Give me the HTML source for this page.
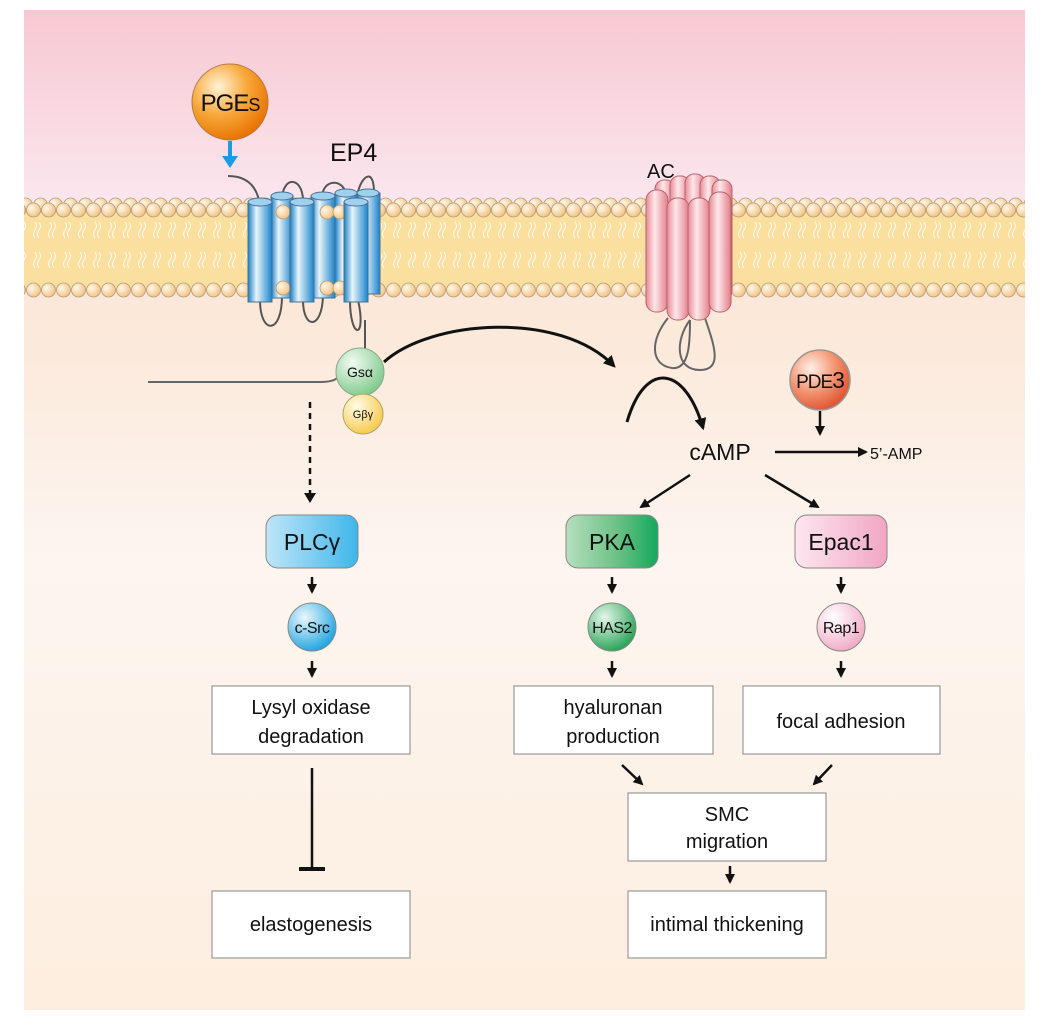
<!DOCTYPE html>
<html><head><meta charset="utf-8"><style>
html,body{margin:0;padding:0;background:#fff}
svg{display:block}
text{font-family:"Liberation Sans",sans-serif;fill:#111}
</style></head><body>
<svg width="1040" height="1024" viewBox="0 0 1040 1024" xmlns="http://www.w3.org/2000/svg">
<defs>
<linearGradient id="bg" x1="0" y1="0" x2="0" y2="1">
<stop offset="0" stop-color="#f7c8d2"/><stop offset="0.19" stop-color="#fbe6ee"/>
<stop offset="0.3" stop-color="#fbe8d8"/><stop offset="0.55" stop-color="#fdf5f0"/><stop offset="1" stop-color="#fdeedf"/>
</linearGradient>
<radialGradient id="head" cx="0.35" cy="0.35" r="0.7"><stop offset="0" stop-color="#fff8ec"/><stop offset="1" stop-color="#f2c27e"/></radialGradient>
<radialGradient id="orange" cx="0.35" cy="0.3" r="0.75"><stop offset="0" stop-color="#fff2d6"/><stop offset="0.5" stop-color="#f7a83a"/><stop offset="1" stop-color="#e87000"/></radialGradient>
<radialGradient id="red" cx="0.35" cy="0.3" r="0.75"><stop offset="0" stop-color="#fff0e8"/><stop offset="0.5" stop-color="#f49a78"/><stop offset="1" stop-color="#e0502c"/></radialGradient>
<radialGradient id="green" cx="0.35" cy="0.3" r="0.75"><stop offset="0" stop-color="#f2fbf2"/><stop offset="1" stop-color="#7dc98a"/></radialGradient>
<radialGradient id="green2" cx="0.35" cy="0.3" r="0.75"><stop offset="0" stop-color="#e6f6ea"/><stop offset="1" stop-color="#23a254"/></radialGradient>
<radialGradient id="yellow" cx="0.35" cy="0.3" r="0.75"><stop offset="0" stop-color="#fffbe6"/><stop offset="1" stop-color="#f6c94a"/></radialGradient>
<radialGradient id="blue" cx="0.35" cy="0.3" r="0.75"><stop offset="0" stop-color="#eaf7fd"/><stop offset="1" stop-color="#1ba3e0"/></radialGradient>
<radialGradient id="pink" cx="0.35" cy="0.3" r="0.75"><stop offset="0" stop-color="#fff"/><stop offset="1" stop-color="#f0a8c4"/></radialGradient>
<linearGradient id="plc" x1="0" y1="0" x2="1" y2="0"><stop offset="0" stop-color="#bfe6f8"/><stop offset="1" stop-color="#3fb6ea"/></linearGradient>
<linearGradient id="pka" x1="0" y1="0" x2="1" y2="0"><stop offset="0" stop-color="#b6dfbf"/><stop offset="0.55" stop-color="#6cc286"/><stop offset="1" stop-color="#14a85a"/></linearGradient>
<linearGradient id="epac" x1="0" y1="0" x2="1" y2="0"><stop offset="0" stop-color="#fde6ef"/><stop offset="1" stop-color="#f1a6c4"/></linearGradient>
<linearGradient id="cyl" x1="0" y1="0" x2="1" y2="0"><stop offset="0" stop-color="#1a7fc4"/><stop offset="0.35" stop-color="#e8f5fc"/><stop offset="1" stop-color="#1a84cc"/></linearGradient>
<linearGradient id="pcyl" x1="0" y1="0" x2="1" y2="0"><stop offset="0" stop-color="#e98a95"/><stop offset="0.4" stop-color="#fde8ea"/><stop offset="1" stop-color="#e47c88"/></linearGradient>
<pattern id="tails" x="0" y="0" width="15" height="70" patternUnits="userSpaceOnUse">
<path d="M5 12 q3 4 0 8 q-3 4 0 8 M9 12 q3 4 0 8 q-3 4 0 8 M5 42 q3 4 0 8 q-3 4 0 8 M9 42 q3 4 0 8 q-3 4 0 8" stroke="#fff" stroke-width="1" fill="none" opacity="0.9"/>
</pattern>
<pattern id="heads" x="26" y="0" width="15" height="20" patternUnits="userSpaceOnUse">
<circle cx="7.5" cy="10" r="7" fill="url(#head)" stroke="#b59a78" stroke-width="0.8"/>
</pattern>
<pattern id="heads2" x="33" y="195" width="15" height="20" patternUnits="userSpaceOnUse">
<circle cx="7.5" cy="10" r="7" fill="url(#head)" stroke="#b59a78" stroke-width="0.8"/>
</pattern>
<marker id="ah" viewBox="0 0 10 10" refX="8" refY="5" markerWidth="4" markerHeight="4" orient="auto"><path d="M0 0 L10 5 L0 10 z" fill="#111"/></marker>
</defs>
<rect x="24" y="10" width="1001" height="1000" fill="url(#bg)"/>
<!-- membrane -->
<rect x="24" y="212" width="1001" height="76" fill="#fbdf9f"/>
<rect x="24" y="215" width="1001" height="70" fill="url(#tails)"/>
<rect x="24" y="195" width="1001" height="20" fill="url(#heads2)"/>
<rect x="24" y="202" width="1001" height="20" fill="url(#heads)"/>
<rect x="24" y="278" width="1001" height="20" fill="url(#heads)"/>

<!-- EP4 loops -->
<g fill="none" stroke="#555" stroke-width="2">
<path d="M228 176 C250 176 258 190 260 206"/>
<path d="M282 200 C282 175 305 175 303 206"/>
<path d="M322 198 C322 178 345 178 346 196"/>
<path d="M356 206 C356 180 375 160 374 196"/>
<path d="M260 300 C260 335 282 335 282 296"/>
<path d="M303 300 C303 330 322 330 323 296"/>
<path d="M350 300 C350 340 367 340 358 300"/>
<path d="M365 320 L365 350 L362 350"/>
</g>
<g stroke="#4a6f8f" stroke-width="1">
<rect x="271" y="196" width="22" height="102" fill="url(#cyl)"/><ellipse cx="282" cy="196" rx="11" ry="4" fill="#9fd0ee"/>
<rect x="311" y="196" width="24" height="102" fill="url(#cyl)"/><ellipse cx="323" cy="196" rx="12" ry="4" fill="#9fd0ee"/>
<rect x="335" y="193" width="22" height="101" fill="url(#cyl)"/><ellipse cx="346" cy="193" rx="11" ry="4" fill="#9fd0ee"/>
<rect x="357" y="193" width="23" height="101" fill="url(#cyl)"/><ellipse cx="368" cy="193" rx="11" ry="4" fill="#9fd0ee"/>
</g>
<g fill="url(#head)" stroke="#b59a78" stroke-width="0.8">
<circle cx="283" cy="212" r="7"/><circle cx="327" cy="212" r="7"/><circle cx="340" cy="212" r="7"/>
<circle cx="283" cy="288" r="7"/><circle cx="327" cy="288" r="7"/><circle cx="340" cy="288" r="7"/>
</g>
<g stroke="#4a6f8f" stroke-width="1">
<rect x="248" y="202" width="24" height="100" fill="url(#cyl)"/><ellipse cx="260" cy="202" rx="12" ry="4" fill="#9fd0ee"/>
<rect x="290" y="202" width="24" height="100" fill="url(#cyl)"/><ellipse cx="302" cy="202" rx="12" ry="4" fill="#9fd0ee"/>
<rect x="344" y="202" width="24" height="100" fill="url(#cyl)"/><ellipse cx="356" cy="202" rx="12" ry="4" fill="#9fd0ee"/>
</g>
<text x="330" y="161" font-size="25">EP4</text>
<!-- PGEs -->
<circle cx="230" cy="102" r="38" fill="url(#orange)" stroke="#b07a40" stroke-width="1"/>
<text x="230" y="111" font-size="24" text-anchor="middle" letter-spacing="-1">PGE<tspan font-size="18">S</tspan></text>
<path d="M230 141 V158" stroke="#1b9be0" stroke-width="4"/><path d="M222 156 L238 156 L230 168 z" fill="#1b9be0"/>

<!-- AC -->
<g fill="none" stroke="#666" stroke-width="2">
<path d="M668 318 C650 340 650 365 672 368 C690 370 690 340 690 320"/>
<path d="M690 320 C675 340 675 370 700 370 C725 370 712 340 705 318"/>
</g>
<g stroke="#b5626d" stroke-width="1">
<rect x="655" y="180" width="20" height="120" rx="9" fill="url(#pcyl)"/>
<rect x="670" y="176" width="20" height="120" rx="9" fill="url(#pcyl)"/>
<rect x="685" y="174" width="20" height="120" rx="9" fill="url(#pcyl)"/>
<rect x="700" y="176" width="20" height="120" rx="9" fill="url(#pcyl)"/>
<rect x="712" y="180" width="20" height="120" rx="9" fill="url(#pcyl)"/>
<rect x="646" y="190" width="22" height="122" rx="10" fill="url(#pcyl)"/>
<rect x="667" y="198" width="22" height="122" rx="10" fill="url(#pcyl)"/>
<rect x="688" y="198" width="22" height="122" rx="10" fill="url(#pcyl)"/>
<rect x="709" y="192" width="22" height="120" rx="10" fill="url(#pcyl)"/>
</g>
<text x="647" y="178" font-size="20">AC</text>

<!-- G proteins -->
<path d="M148 382 H320 C335 382 340 378 340 372" fill="none" stroke="#666" stroke-width="2"/>
<circle cx="360" cy="372" r="24" fill="url(#green)" stroke="#8aa88e" stroke-width="1"/>
<text x="360" y="377" font-size="14" text-anchor="middle">Gsα</text>
<circle cx="363" cy="414" r="20" fill="url(#yellow)" stroke="#b4a36a" stroke-width="1"/>
<text x="363" y="418" font-size="11" text-anchor="middle">Gβγ</text>

<g fill="none" stroke="#111" stroke-width="3" marker-end="url(#ah)">
<path d="M384 362 C430 320 560 310 614 366"/>
<path d="M627 422 C645 360 685 365 703 428"/>
</g>
<path d="M310 402 V495" stroke="#111" stroke-width="2.5" stroke-dasharray="6,5"/>
<path d="M304 493 L316 493 L310 503 z" fill="#111"/>

<text x="720" y="460" font-size="23" text-anchor="middle">cAMP</text>
<circle cx="820" cy="380" r="30" fill="url(#red)" stroke="#999" stroke-width="1.5"/>
<text x="820" y="388" font-size="19" text-anchor="middle" letter-spacing="-1">PDE<tspan font-size="23">3</tspan></text>
<g stroke="#111" stroke-width="2.5" fill="none" marker-end="url(#ah)">
<path d="M820 411 V434"/>
<path d="M775 452 H866"/>
<path d="M690 475 L641 507"/>
<path d="M765 475 L818 507"/>
</g>
<text x="870" y="459" font-size="16">5’-AMP</text>

<rect x="266" y="515" width="92" height="53" rx="12" fill="url(#plc)" stroke="#888"/>
<text x="312" y="550" font-size="23" text-anchor="middle">PLCγ</text>
<rect x="566" y="515" width="92" height="53" rx="12" fill="url(#pka)" stroke="#888"/>
<text x="612" y="550" font-size="23" text-anchor="middle">PKA</text>
<rect x="795" y="515" width="92" height="53" rx="12" fill="url(#epac)" stroke="#888"/>
<text x="841" y="550" font-size="23" text-anchor="middle">Epac1</text>
<circle cx="312" cy="627" r="24" fill="url(#blue)" stroke="#888"/><text x="312" y="633" font-size="16" text-anchor="middle" letter-spacing="-0.5">c-Src</text>
<circle cx="612" cy="627" r="24" fill="url(#green2)" stroke="#888"/><text x="612" y="633" font-size="16" text-anchor="middle" letter-spacing="-0.5">HAS2</text>
<circle cx="841" cy="627" r="24" fill="url(#pink)" stroke="#888"/><text x="841" y="633" font-size="16" text-anchor="middle" letter-spacing="-0.5">Rap1</text>
<g stroke="#111" stroke-width="2.5" fill="none" marker-end="url(#ah)">
<path d="M312 577 V592"/><path d="M612 577 V592"/><path d="M841 577 V592"/>
<path d="M312 661 V676"/><path d="M612 661 V676"/><path d="M841 661 V676"/>
<path d="M622 765 L642 784"/><path d="M832 765 L814 784"/>
<path d="M730 866 V882"/>
</g>
<g fill="#fff" stroke="#999" stroke-width="1.2">
<rect x="212" y="686" width="198" height="68"/>
<rect x="514" y="686" width="199" height="68"/>
<rect x="743" y="686" width="197" height="68"/>
<rect x="628" y="793" width="198" height="68"/>
<rect x="212" y="891" width="198" height="67"/>
<rect x="628" y="891" width="198" height="67"/>
</g>
<g font-size="20" text-anchor="middle">
<text x="311" y="714">Lysyl oxidase</text><text x="311" y="743">degradation</text>
<text x="613" y="714">hyaluronan</text><text x="613" y="743">production</text>
<text x="841" y="728">focal adhesion</text>
<text x="727" y="821">SMC</text><text x="727" y="848">migration</text>
<text x="311" y="931">elastogenesis</text>
<text x="727" y="931">intimal thickening</text>
</g>
<path d="M312 768 V869" stroke="#111" stroke-width="2.5"/>
<path d="M299 869 H325" stroke="#111" stroke-width="4"/>
</svg>
</body></html>
